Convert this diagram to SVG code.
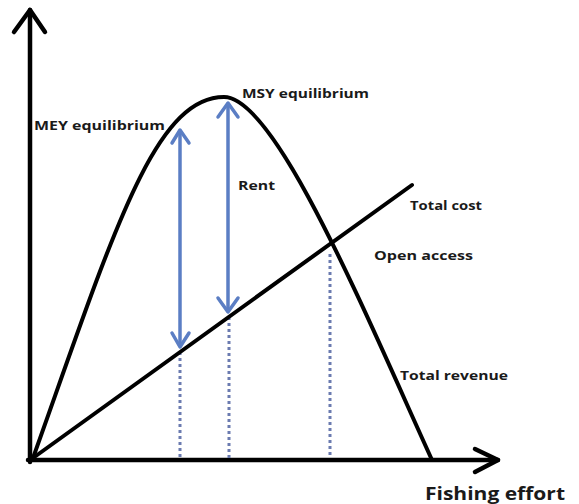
<svg xmlns="http://www.w3.org/2000/svg" width="579" height="504" viewBox="0 0 579 504">
  <style>
    .axis { fill: none; stroke: #000; stroke-width: 4.5; stroke-linecap: round; stroke-linejoin: round; }
    .curve { fill: none; stroke: #000; stroke-width: 4; stroke-linecap: round; }
    .rent { fill: none; stroke: #5b7ec4; stroke-width: 3.5; stroke-linecap: round; stroke-linejoin: round; }
    .guide { fill: none; stroke: #6b7bb0; stroke-width: 3; stroke-dasharray: 3 3; }
    .label { font-family: "Open Sans", "Liberation Sans", sans-serif; font-weight: bold; font-size: 13px; fill: #1a1a1a; }
    .title { font-family: "Open Sans", "Liberation Sans", sans-serif; font-weight: bold; font-size: 18px; fill: #1a1a1a; }
  </style>
  <rect width="579" height="504" fill="#fff"/>

  <!-- axes -->
  <g id="axes">
    <path class="axis" d="M30 462 V10"/>
    <path class="axis" d="M14 32 L30 10 L45 32"/>
    <path class="axis" d="M28 460 H498"/>
    <path class="axis" d="M475 449 L498 460 L475 472"/>
  </g>

  <!-- vertical guides down to the effort axis -->
  <g id="guides">
    <path class="guide" d="M180 352 V458"/>
    <path class="guide" d="M229 317 V458"/>
    <path class="guide" d="M330 254 V458"/>
  </g>

  <!-- total revenue curve -->
  <g id="total-revenue">
    <path class="curve" d="M33 458 C113 234 154 97 224 97 C275 97 362 306 432 460"/>
  </g>

  <!-- total cost line -->
  <g id="total-cost">
    <path class="curve" d="M33 458 L412 185"/>
  </g>

  <!-- rent arrows -->
  <g id="connectors">
    <g id="mey-rent">
      <path class="rent" d="M180 131 V345"/>
      <path class="rent" d="M172 143 L180 130 L189 143"/>
      <path class="rent" d="M172 333 L180 347 L189 333"/>
    </g>
    <g id="msy-rent">
      <path class="rent" d="M228 104 V310"/>
      <path class="rent" d="M218 117 L228 103 L238 117"/>
      <path class="rent" d="M218 298 L228 312 L238 298"/>
    </g>
  </g>

  <!-- labels -->
  <g id="labels">
    <text class="label" x="34" y="130" textLength="131" lengthAdjust="spacingAndGlyphs">MEY equilibrium</text>
    <text class="label" x="242" y="98" textLength="127" lengthAdjust="spacingAndGlyphs">MSY equilibrium</text>
    <text class="label" x="238" y="190" textLength="37" lengthAdjust="spacingAndGlyphs">Rent</text>
    <text class="label" x="410" y="210" textLength="72" lengthAdjust="spacingAndGlyphs">Total cost</text>
    <text class="label" x="374" y="260" textLength="99" lengthAdjust="spacingAndGlyphs">Open access</text>
    <text class="label" x="400" y="380" textLength="108" lengthAdjust="spacingAndGlyphs">Total revenue</text>
    <text class="title" x="425" y="500" textLength="140" lengthAdjust="spacingAndGlyphs">Fishing effort</text>
  </g>
</svg>
